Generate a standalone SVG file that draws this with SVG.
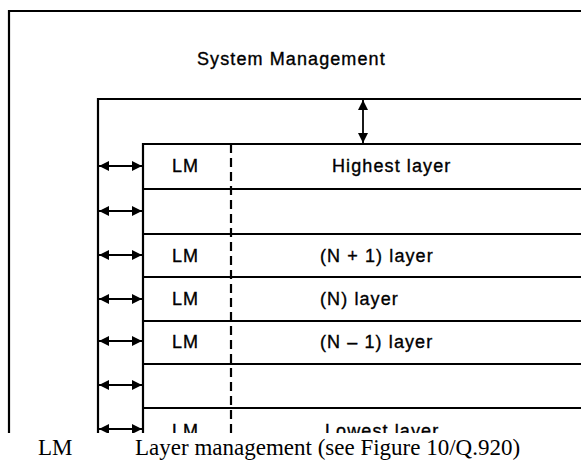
<svg xmlns="http://www.w3.org/2000/svg" width="581" height="462" viewBox="0 0 581 462">
<style>
.ln{stroke:#000;stroke-width:2.2;fill:none}
.dash{stroke:#000;stroke-width:2.2;stroke-dasharray:9 5;fill:none}
.t{font-family:"Liberation Sans",Arial,sans-serif;font-size:18px;letter-spacing:1.1px;fill:#000;stroke:#000;stroke-width:0.35}
.cap{font-family:"Liberation Serif","Times New Roman",serif;font-size:23px;fill:#000}
.ar{stroke:#000;stroke-width:1.8;fill:none;marker-start:url(#ah);marker-end:url(#ah)}
</style>
<defs>
<marker id="ah" viewBox="0 0 10 10" refX="10" refY="5" markerWidth="11" markerHeight="10" markerUnits="userSpaceOnUse" orient="auto-start-reverse">
<path d="M0,0 L10,5 L0,10 Z" fill="#000"/>
</marker>
<clipPath id="clip"><rect x="0" y="0" width="581" height="433"/></clipPath>
</defs>
<rect width="581" height="462" fill="#fff"/>
<g clip-path="url(#clip)">
<g id="system-management">
<path class="ln" d="M9,433 V11 H581" stroke-width="1.8"/>
<text class="t" x="197" y="65">System Management</text>
</g>
<g id="layer-stack">
<path class="ln" d="M98,433 V99 H581"/>
<path class="ln" d="M143,433 V144 H581"/>
<path class="ln" d="M143,189 H581 M143,234 H581 M143,277 H581 M143,321 H581 M143,364 H581 M143,408 H581"/>
<path class="dash" d="M231,144 V433"/>
</g>
<g id="highest-layer">
<text class="t" x="172" y="172">LM</text>
<text class="t" x="332" y="172">Highest layer</text>
</g>
<g id="layer-n-plus-1">
<text class="t" x="172" y="262">LM</text>
<text class="t" x="320" y="262">(N + 1) layer</text>
</g>
<g id="layer-n">
<text class="t" x="172" y="305">LM</text>
<text class="t" x="320" y="305">(N) layer</text>
</g>
<g id="layer-n-minus-1">
<text class="t" x="172" y="348">LM</text>
<text class="t" x="320" y="348">(N – 1) layer</text>
</g>
<g id="lowest-layer">
<text class="t" x="172" y="437">LM</text>
<text class="t" x="325" y="437">Lowest layer</text>
</g>
<g id="connectors">
<path class="ar" d="M363,100 V143"/>
<path class="ar" d="M99,166 H142"/>
<path class="ar" d="M99,211 H142"/>
<path class="ar" d="M99,255 H142"/>
<path class="ar" d="M99,299 H142"/>
<path class="ar" d="M99,341 H142"/>
<path class="ar" d="M99,385 H142"/>
<path class="ar" d="M99,429 H142"/>
</g>
</g>
<g id="legend">
<text class="cap" x="38" y="455">LM</text>
<text class="cap" x="135" y="455">Layer management (see Figure 10/Q.920)</text>
</g>
</svg>
